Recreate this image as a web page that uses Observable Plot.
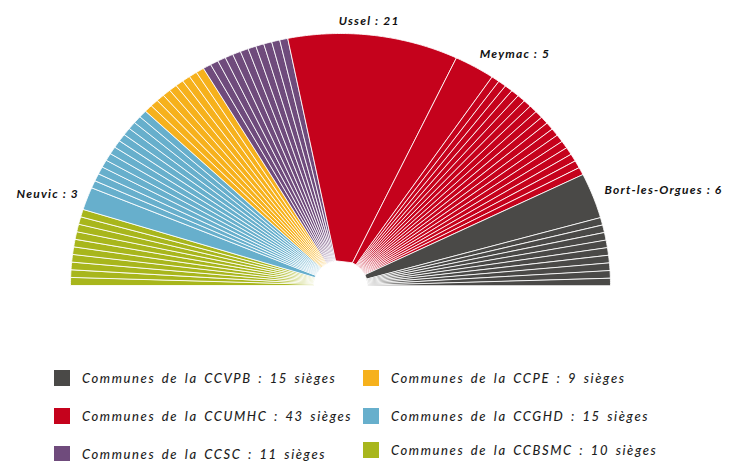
<!DOCTYPE html>
<html>
<head>
<meta charset="utf-8">
<script src="https://cdn.jsdelivr.net/npm/d3@7"></script>
<script src="https://cdn.jsdelivr.net/npm/@observablehq/plot@0.6"></script>
<style>
  html, body { margin: 0; padding: 0; background: #fff; }
  #wrap { position: relative; width: 734px; height: 461px; overflow: hidden; }
  #chart { position: absolute; left: 0; top: 0; }
  #chart text { letter-spacing: 1.2px; }
  #legend { position: absolute; left: 0; top: 0; width: 734px; height: 461px; pointer-events: none; }
  .item { position: absolute; display: flex; align-items: center; font-family: Lato, "Open Sans", sans-serif;
          font-style: italic; font-weight: 500; font-size: 13px; letter-spacing: 1.6px; word-spacing: 2px; color: #1e1e1e; white-space: nowrap; }
  .sw { width: 16px; height: 16px; margin-right: 12px; flex: none; }
</style>
</head>
<body>
<div id="wrap">
  <div id="chart"></div>
  <div id="legend"></div>
</div>
<script>
// ---- data ----
const groups = ["CCVPB", "CCUMHC", "CCSC", "CCPE", "CCGHD", "CCBSMC"];
const groupSeats = [15, 43, 11, 9, 15, 10];
const groupColors = ["#4a4947", "#c5021c", "#6f4b7c", "#f6b11c", "#67afcc", "#a8b61c"];
const communes = ["Bort-les-Orgues", "Meymac", "Ussel", "Neuvic"];
const communeGroups = ["CCVPB", "CCUMHC", "CCUMHC", "CCGHD"];
const communeSeats = [6, 5, 21, 3];
const legendLabels = groups.map((g, i) => `Communes de la ${g} : ${groupSeats[i]} sièges`);

// ---- build wedges (angle 0 = right, 180 = left) ----
const total = d3.sum(groupSeats);
const inner = 0.1;
const wedges = [];
let cum = 0;
groups.forEach((g, gi) => {
  const big = communes.map((c, i) => ({c, i})).filter(d => communeGroups[d.i] === g);
  const thin = groupSeats[gi] - d3.sum(big, d => communeSeats[d.i]);
  for (let k = 0; k < thin; k++) {
    wedges.push({id: `${g}-${k}`, group: g, start: cum, end: cum + 1, name: null});
    cum += 1;
  }
  big.forEach(d => {
    wedges.push({id: d.c, group: g, start: cum, end: cum + communeSeats[d.i], name: `${d.c} : ${communeSeats[d.i]}`});
    cum += communeSeats[d.i];
  });
});
const ang = s => Math.PI * s / total;
const points = [];
wedges.forEach(w => {
  const a0 = ang(w.start), a1 = ang(w.end);
  const n = Math.max(2, Math.ceil((a1 - a0) / 0.01));
  for (let k = 0; k <= n; k++) {
    const a = a0 + (a1 - a0) * k / n;
    points.push({id: w.id, group: w.group, x: Math.cos(a), y: Math.sin(a)});
  }
  points.push({id: w.id, group: w.group, x: inner * Math.cos(a1), y: inner * Math.sin(a1)});
  points.push({id: w.id, group: w.group, x: inner * Math.cos(a0), y: inner * Math.sin(a0)});
});
const labels = wedges.filter(w => w.name).map(w => {
  const a = ang((w.start + w.end) / 2);
  const r = 1.055;
  const c = Math.cos(a);
  return {text: w.name, x: r * c, y: r * Math.sin(a), anchor: c > 0.3 ? "start" : c < -0.3 ? "end" : "middle"};
});

const chart = Plot.plot({
  width: 734,
  height: 300,
  margin: 0,
  x: {domain: [-1, 1], range: [70, 610], axis: null},
  y: {domain: [0, 1], range: [285, 33], axis: null},
  color: {domain: groups, range: groupColors},
  style: {background: "transparent"},
  marks: [
    Plot.line(points, {x: "x", y: "y", z: "id", fill: "group", stroke: "white", strokeWidth: 1, strokeOpacity: 0.85, curve: "linear-closed"}),
    ...["start", "middle", "end"].map(an => Plot.text(labels.filter(d => d.anchor === an), {
      x: "x", y: "y", text: "text", textAnchor: an, fill: "#111", dx: an === "end" ? 6 : an === "middle" ? -6 : -2,
      fontFamily: "Lato, sans-serif", fontWeight: "bold", fontStyle: "italic", fontSize: 12
    }))
  ]
});
document.getElementById("chart").appendChild(chart);

// ---- legend ----
const legend = document.getElementById("legend");
const colX = [54, 363];
const rowY = [370, 408, 446];
legendLabels.forEach((t, i) => {
  const col = i < 3 ? 0 : 1, row = i % 3;
  const el = document.createElement("div");
  el.className = "item";
  el.style.left = colX[col] + "px";
  el.style.top = rowY[row] + (col === 1 && row === 2 ? -4 : 0) + "px";
  el.innerHTML = `<span class="sw" style="background:${groupColors[i]}"></span><span>${t}</span>`;
  legend.appendChild(el);
});
</script>
</body>
</html>
